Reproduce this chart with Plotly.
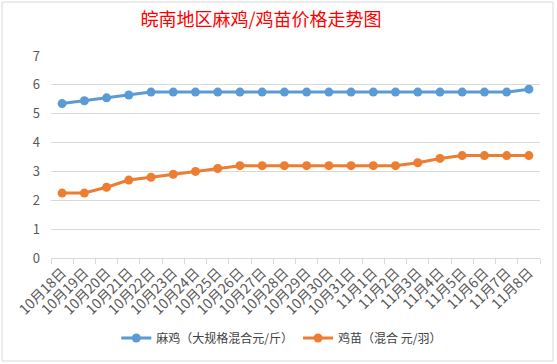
import plotly.graph_objects as go

dates = ["10月18日", "10月19日", "10月20日", "10月21日", "10月22日", "10月23日",
         "10月24日", "10月25日", "10月26日", "10月27日", "10月28日", "10月29日",
         "10月30日", "10月31日", "11月1日", "11月2日", "11月3日", "11月4日",
         "11月5日", "11月6日", "11月7日", "11月8日"]
maji_name = "麻鸡（大规格混合元/斤）"
miao_name = "鸡苗（混合 元/羽）"
maji = [5.35, 5.45, 5.55, 5.65, 5.75, 5.75, 5.75, 5.75, 5.75, 5.75, 5.75,
        5.75, 5.75, 5.75, 5.75, 5.75, 5.75, 5.75, 5.75, 5.75, 5.75, 5.85]
jimiao = [2.25, 2.25, 2.45, 2.7, 2.8, 2.9, 3.0, 3.1, 3.2, 3.2, 3.2,
          3.2, 3.2, 3.2, 3.2, 3.2, 3.3, 3.45, 3.55, 3.55, 3.55, 3.55]
yticks = [0, 1, 2, 3, 4, 5, 6, 7]

font = "Noto Sans CJK SC"
fig = go.Figure()
fig.add_trace(go.Scatter(x=dates, y=maji, name=maji_name, mode="lines+markers",
                         line=dict(color="#5B9BD5", width=3),
                         marker=dict(color="#5B9BD5", size=9)))
fig.add_trace(go.Scatter(x=dates, y=jimiao, name=miao_name, mode="lines+markers",
                         line=dict(color="#ED7D31", width=3),
                         marker=dict(color="#ED7D31", size=9)))

fig.update_layout(
    width=557, height=364,
    margin=dict(l=51, r=17, t=56, b=106, autoexpand=False),
    paper_bgcolor="white", plot_bgcolor="white",
    font=dict(family=font, color="#595959", size=11),
    title=dict(text="皖南地区麻鸡/鸡苗价格走势图", x=261 / 557, xanchor="center",
               y=1 - 20 / 364, yref="container", yanchor="middle",
               font=dict(family=font, size=18, color="#FF0000")),
    showlegend=True,
    legend=dict(orientation="h", x=0.472, xanchor="center", y=-0.396, yanchor="middle",
                font=dict(size=12, color="#404040"),
                bgcolor="rgba(0,0,0,0)"),
    xaxis=dict(type="category", tickangle=-45, tickson="boundaries",
               ticks="outside", ticklen=5, tickcolor="#D9D9D9",
               showline=True, linecolor="#D9D9D9", linewidth=1, automargin=False,
               showgrid=False, tickfont=dict(size=14, color="#595959"),
               range=[-0.5, len(dates) - 0.5]),
    yaxis=dict(range=[0, 7], tickvals=yticks, showgrid=True, gridcolor="#D9D9D9",
               gridwidth=1, zeroline=False, showline=False, automargin=False,
               tickfont=dict(size=13, color="#595959"), ticklabelstandoff=10),
    shapes=[dict(type="rect", xref="paper", yref="paper",
                 x0=-0.1002, x1=1.0266, y0=-0.51, y1=1.267,
                 line=dict(color="#D9D9D9", width=1))],
)

fig.write_html("out.html", config={"displayModeBar": False},
               post_script="document.body.style.margin='0';document.body.style.overflow='hidden';")
